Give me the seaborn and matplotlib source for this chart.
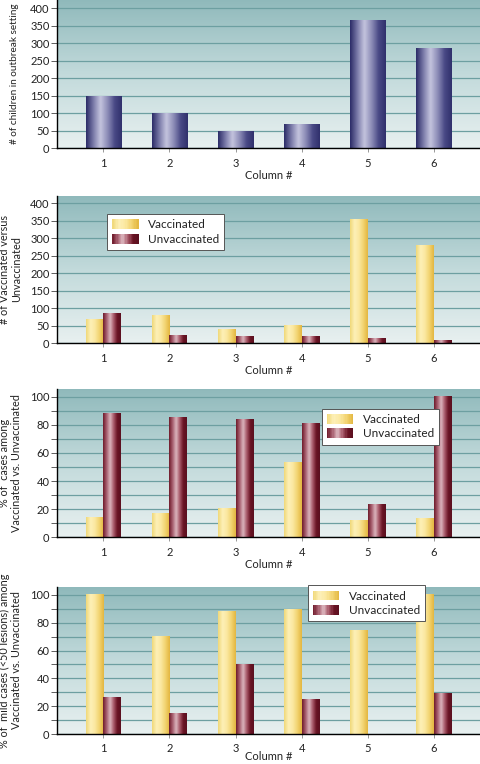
import numpy as np
import pandas as pd
import seaborn as sns
import matplotlib.pyplot as plt
from matplotlib.colors import LinearSegmentedColormap
from matplotlib.legend_handler import HandlerBase
from matplotlib.patches import Rectangle, Patch

columns = ['1', '2', '3', '4', '5', '6']
groups = ['Vaccinated', 'Unvaccinated']

children = [148, 100, 47, 66, 366, 284]

count_vacc = [66, 80, 40, 49, 353, 278]
count_unvacc = [83, 21, 20, 18, 14, 7]

pct_cases_vacc = [14, 17, 20, 53, 12, 13]
pct_cases_unvacc = [88, 85, 84, 81, 23, 100]

pct_mild_vacc = [100, 70, 88, 89, 74, 100]
pct_mild_unvacc = [26, 15, 50, 25, 0, 29]

sns.set_theme(style='ticks')
plt.rcParams['font.family'] = ['Lato', 'DejaVu Sans']
plt.rcParams['font.size'] = 7.5

blue = LinearSegmentedColormap.from_list('b', ['#2c2c68', '#7a7aa8', '#c4c4de', '#8e8eb8', '#4a4a86', '#30306c'])
yellow = LinearSegmentedColormap.from_list('y', ['#f0d878', '#fdf0b8', '#fbe8a0', '#f2d370', '#e3b640'])
maroon = LinearSegmentedColormap.from_list('m', ['#6e1a2a', '#a86070', '#dcb6be', '#a85a6a', '#6a1424', '#5a1020'])
bg = LinearSegmentedColormap.from_list('bg', ['#e8f0f0', '#c2dadb', '#8fb9bb'])
grid_col = '#6d9fa1'
text_col = '#222222'


def long(v, u):
    return pd.DataFrame({'col': columns * 2, 'group': [groups[0]] * 6 + [groups[1]] * 6,
                         'val': v + u})


def shade(ax, cmaps):
    grad = np.linspace(0, 1, 64).reshape(1, -1)
    n = len(columns)
    for i, p in enumerate(list(ax.patches)):
        x, y = p.get_x(), p.get_y()
        w, h = p.get_width(), p.get_height()
        if h <= 0:
            continue
        cm = cmaps[min(i // n, len(cmaps) - 1)]
        ax.imshow(grad, extent=[x, x + w, y, y + h], aspect='auto',
                  cmap=cm, zorder=2, interpolation='bicubic')
        p.set_facecolor('none')
        p.set_edgecolor('none')


def style(ax, ymax, major, minor, ylabel, ysize=7.8):
    ax.imshow(np.linspace(0, 1, 256).reshape(-1, 1), extent=[0, 1, 0, 1], origin='lower',
              transform=ax.transAxes, aspect='auto', cmap=bg, zorder=0)
    ax.set_xlim(-0.7, 5.7)
    ax.set_ylim(0, ymax)
    ax.set_yticks(np.arange(0, ymax, major))
    ax.set_yticks(np.arange(0, ymax, minor), minor=True)
    ax.grid(axis='y', which='both', color=grid_col, linewidth=0.9, zorder=0.5)
    ax.set_axisbelow(True)
    sns.despine(ax=ax, top=True, right=True)
    for s in ['left', 'bottom']:
        ax.spines[s].set_color('black')
        ax.spines[s].set_linewidth(1.0)
        ax.spines[s].set_zorder(3)
    ax.tick_params(axis='y', which='major', length=4, width=0.6, color='#444444',
                   labelsize=8, pad=1.5, labelcolor=text_col)
    ax.tick_params(axis='y', which='minor', length=4, width=0.6, color='#444444')
    ax.tick_params(axis='x', length=3, width=0.6, color='#888888', labelsize=8, pad=4,
                   labelcolor=text_col)
    ax.set_xlabel('Column #', fontsize=8, labelpad=1, color=text_col)
    ax.set_ylabel(ylabel, fontsize=ysize, linespacing=1.1, color=text_col)


class HandlerGrad(HandlerBase):
    def __init__(self, cmap):
        super().__init__()
        self.cmap = cmap

    def create_artists(self, legend, orig_handle, xdescent, ydescent, width, height, fontsize, trans):
        arts = []
        n = 20
        for k in range(n):
            r = Rectangle((-xdescent + width * k / n, -ydescent), width / n + 0.2, height,
                          facecolor=self.cmap((k + 0.5) / n), edgecolor='none', transform=trans)
            arts.append(r)
        return arts


def add_legend(ax, anchor):
    hv, hu = Patch(label=groups[0]), Patch(label=groups[1])
    leg = ax.legend([hv, hu], groups, loc='upper left', bbox_to_anchor=anchor,
                    handler_map={hv: HandlerGrad(yellow), hu: HandlerGrad(maroon)},
                    fontsize=8.5, frameon=True, fancybox=False, framealpha=1,
                    edgecolor='#555555', handlelength=2.2, handleheight=0.9,
                    handletextpad=0.8, borderpad=0.45, labelspacing=0.3, borderaxespad=0)
    leg.get_frame().set_linewidth(0.7)
    for t in leg.get_texts():
        t.set_color(text_col)
    leg.set_zorder(5)


fig = plt.figure(figsize=(4.8, 7.64), dpi=100)
axes = [fig.add_axes([0.119, 0.806, 0.881, 0.194]),
        fig.add_axes([0.119, 0.551, 0.881, 0.193]),
        fig.add_axes([0.119, 0.297, 0.881, 0.194]),
        fig.add_axes([0.119, 0.039, 0.881, 0.193])]

ax = axes[0]
sns.barplot(x=columns, y=children, width=0.54, ax=ax, color='#44447f', zorder=2)
shade(ax, [blue])
style(ax, 424, 50, 50, '# of children in outbreak setting', ysize=7.2)

ax = axes[1]
sns.barplot(data=long(count_vacc, count_unvacc), x='col', y='val', hue='group',
            width=0.54, ax=ax, legend=False, zorder=2)
shade(ax, [yellow, maroon])
style(ax, 422, 50, 50, '# of Vaccinated versus\nUnvaccinated')
add_legend(ax, (0.118, 0.876))

ax = axes[2]
sns.barplot(data=long(pct_cases_vacc, pct_cases_unvacc), x='col', y='val', hue='group',
            width=0.54, ax=ax, legend=False, zorder=2)
shade(ax, [yellow, maroon])
style(ax, 105.7, 20, 10, '% of  cases among\nVaccinated vs. Unvaccinated')
add_legend(ax, (0.626, 0.867))

ax = axes[3]
sns.barplot(data=long(pct_mild_vacc, pct_mild_unvacc), x='col', y='val', hue='group',
            width=0.54, ax=ax, legend=False, zorder=2)
shade(ax, [yellow, maroon])
style(ax, 105.7, 20, 10, '% of  mild cases (<50 lesions) among\nVaccinated vs. Unvaccinated')
add_legend(ax, (0.593, 1.01))
ax.tick_params(axis='x', pad=3)
ax.set_xlabel('Column #', fontsize=8, labelpad=-1.5, color=text_col)

for ax in axes[1:]:
    ax.yaxis.set_label_coords(-0.083, 0.5)
axes[0].yaxis.set_label_coords(-0.09, 0.5)

fig.savefig('out.png', dpi=100)
